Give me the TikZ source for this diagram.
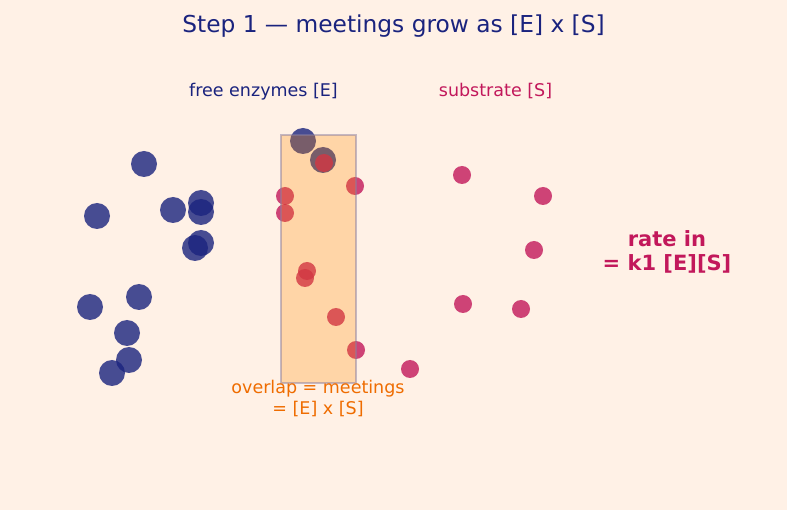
\documentclass[tikz,border=0pt]{standalone}
\usepackage{fontspec}
\setmainfont{DejaVu Sans}
\definecolor{bg}{HTML}{FFF1E6}
\definecolor{navy}{HTML}{1A237E}
\definecolor{magenta}{HTML}{C2185B}
\definecolor{orng}{HTML}{EF6C00}
\definecolor{boxfill}{HTML}{FF8C00}
\definecolor{boxedge}{HTML}{8A7FA0}
\begin{document}
\begin{tikzpicture}[x=1pt,y=-1pt,
  enz/.style={circle,fill=navy,fill opacity=0.8,draw=none,minimum size=26pt,inner sep=0pt},
  sub/.style={circle,fill=magenta,fill opacity=0.8,draw=none,minimum size=18pt,inner sep=0pt},
  lbl/.style={font=\fontsize{17.5}{21}\selectfont,anchor=base,inner sep=0pt}]
\useasboundingbox[fill=bg] (0,0) rectangle (787,510);
% title
\node[lbl,font=\fontsize{23.3}{28}\selectfont,text=navy] (title) at (393.5,33) {Step 1 — meetings grow as [E] x [S]};
\node[lbl,text=navy] (elabel) at (263.5,97) {free enzymes [E]};
\node[lbl,text=magenta] (slabel) at (495.5,97) {substrate [S]};
% enzymes
\node[enz] (e1) at (144,164) {};
\node[enz] (e2) at (97,216) {};
\node[enz] (e3) at (173,210) {};
\node[enz] (e4) at (201,203) {};
\node[enz] (e5) at (201,212) {};
\node[enz] (e6) at (201,243) {};
\node[enz] (e7) at (195,248) {};
\node[enz] (e8) at (139,297) {};
\node[enz] (e9) at (90,307) {};
\node[enz] (e10) at (127,333) {};
\node[enz] (e11) at (129,360) {};
\node[enz] (e12) at (112,373) {};
\node[enz] (e13) at (303,141) {};
\node[enz] (e14) at (323,160) {};
% substrates
\node[sub] (s1) at (324,163) {};
\node[sub] (s2) at (355,186) {};
\node[sub] (s3) at (285,196) {};
\node[sub] (s4) at (285,213) {};
\node[sub] (s5) at (307,271) {};
\node[sub] (s6) at (305,278) {};
\node[sub] (s7) at (336,317) {};
\node[sub] (s8) at (356,350) {};
\node[sub] (s9) at (410,369) {};
\node[sub] (s10) at (462,175) {};
\node[sub] (s11) at (543,196) {};
\node[sub] (s12) at (534,250) {};
\node[sub] (s13) at (463,304) {};
\node[sub] (s14) at (521,309) {};
% overlap region (drawn over the particles, translucent)
\node[draw=boxedge,line width=2.5pt,fill=boxfill,fill opacity=0.27,draw opacity=0.5,minimum width=75pt,minimum height=248pt,inner sep=0pt] (overlapbox) at (318.5,259) {};
% labels
\node[font=\fontsize{21}{24}\selectfont\bfseries,text=magenta,align=center,anchor=base,inner sep=0pt] (rate) at (667,271) {rate in\\= k1 [E][S]};
\node[lbl,text=orng,align=center,font=\fontsize{17.5}{21}\selectfont] (ovl) at (318,414) {overlap = meetings\\= [E] x [S]};
\end{tikzpicture}
\end{document}
